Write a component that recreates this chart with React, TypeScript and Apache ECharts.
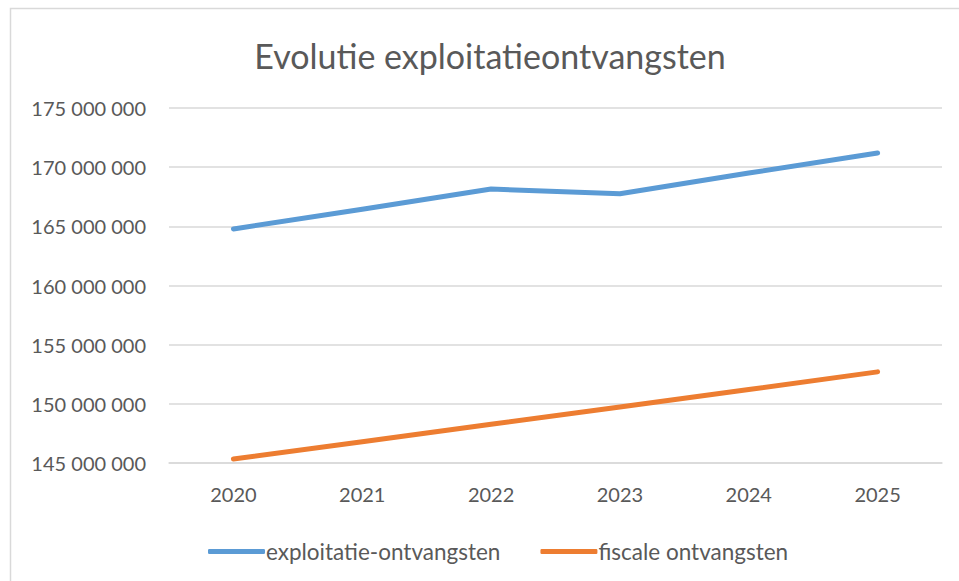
import React, { useEffect, useRef } from "react";
import * as echarts from "echarts";

const titleText = "Evolutie exploitatieontvangsten";
const years = ["2020", "2021", "2022", "2023", "2024", "2025"];
const exploitatie = [164780000, 166450000, 168150000, 167750000, 169500000, 171200000];
const fiscale = [145340000, 146800000, 148270000, 149740000, 151210000, 152700000];
const seriesNames = ["exploitatie-ontvangsten", "fiscale ontvangsten"];

const FONT = "Lato, 'Open Sans', sans-serif";
const GREY = "#595959";

function fmt(v: number): string {
  return String(Math.round(v)).replace(/\B(?=(\d{3})+(?!\d))/g, " ");
}

export default function App() {
  const ref = useRef<HTMLDivElement>(null);
  useEffect(() => {
    document.body.style.margin = "0";
    if (!ref.current) return;
    const chart = echarts.init(ref.current, undefined, { renderer: "svg" });
    chart.setOption({
      animation: false,
      backgroundColor: "#ffffff",
      graphic: [
        {
          type: "rect",
          shape: { x: 10.5, y: 8.5, width: 1200, height: 1000 },
          style: { fill: "none", stroke: "#D9D9D9", lineWidth: 1.5 },
          silent: true,
        },
        {
          type: "text",
          x: 490,
          y: 55,
          style: {
            text: titleText,
            textAlign: "center",
            textVerticalAlign: "middle",
            font: `34px ${FONT}`,
            fill: GREY,
          },
        },
      ],
      grid: { left: 169, right: 17, top: 108, bottom: 118, containLabel: false },
      legend: {
        left: 203,
        top: 535,
        itemWidth: 57,
        itemHeight: 5,
        itemGap: 40,
        icon: "roundRect",
        textStyle: { fontFamily: FONT, fontSize: 22.5, color: GREY, padding: [0, 0, 0, -4] },
        data: seriesNames,
      },
      xAxis: {
        type: "category",
        data: years,
        boundaryGap: true,
        axisLine: { show: true, lineStyle: { color: "#D9D9D9", width: 1.5 } },
        axisTick: { show: false },
        axisLabel: { fontFamily: FONT, fontSize: 20, color: GREY, margin: 21 },
      },
      yAxis: {
        type: "value",
        min: 145000000,
        max: 175000000,
        interval: 5000000,
        axisLine: { show: false },
        axisTick: { show: false },
        splitLine: { lineStyle: { color: "#D9D9D9", width: 1.5 } },
        axisLabel: { fontFamily: FONT, fontSize: 20, color: GREY, margin: 23, formatter: (v: number) => fmt(v) },
      },
      series: [
        {
          name: seriesNames[0],
          type: "line",
          data: exploitatie,
          symbol: "none",
          lineStyle: { color: "#5B9BD5", width: 5, cap: "round", join: "round" },
          itemStyle: { color: "#5B9BD5" },
        },
        {
          name: seriesNames[1],
          type: "line",
          data: fiscale,
          symbol: "none",
          lineStyle: { color: "#ED7D31", width: 5, cap: "round", join: "round" },
          itemStyle: { color: "#ED7D31" },
        },
      ],
    });
    return () => chart.dispose();
  }, []);
  return <div ref={ref} style={{ width: 959, height: 581 }} />;
}
